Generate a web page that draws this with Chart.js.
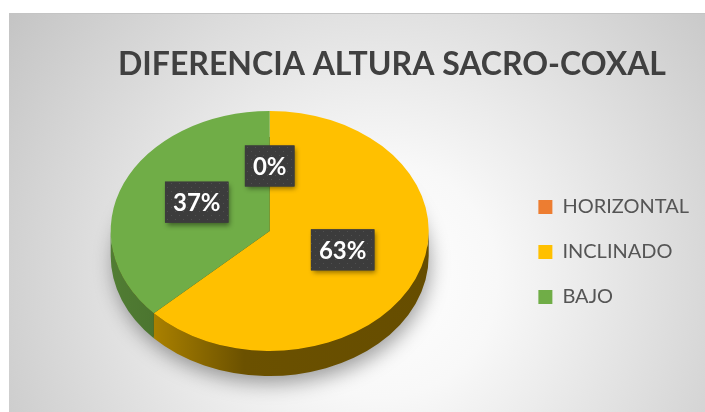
<!DOCTYPE html>
<html><head><meta charset="utf-8">
<script src="https://cdn.jsdelivr.net/npm/chart.js@4.4.1/dist/chart.umd.min.js"></script>
<style>
html,body{margin:0;padding:0;background:#fff;width:705px;height:412px;overflow:hidden;}
#wrap{position:absolute;left:9px;top:13px;width:696px;height:399px;}
</style></head><body>
<div id="wrap"><canvas id="c" width="696" height="399"></canvas></div>
<script>
const TITLE = 'DIFERENCIA ALTURA SACRO-COXAL';
const CATEGORIES = ['HORIZONTAL', 'INCLINADO', 'BAJO'];
const PERCENTS = [0, 63, 37];
const COLORS = ['#ED7D31', '#FFC000', '#70AD47'];

const TILT = 0.755;   // vertical squash of the pie (3-D view)
const DEPTH = 25;     // thickness of the 3-D pie side

function shade(hex, f) {
  const n = parseInt(hex.slice(1), 16);
  const r = Math.round(((n >> 16) & 255) * f), g = Math.round(((n >> 8) & 255) * f), b = Math.round((n & 255) * f);
  return `rgb(${r},${g},${b})`;
}

let dotPattern = null;
function getPattern(ctx) {
  if (dotPattern) return dotPattern;
  const c = document.createElement('canvas'); c.width = 8; c.height = 8;
  const p = c.getContext('2d');
  p.fillStyle = '#3c3c3c'; p.fillRect(0, 0, 8, 8);
  p.fillStyle = '#505050'; p.fillRect(2, 2, 1, 1); p.fillRect(6, 6, 1, 1);
  dotPattern = ctx.createPattern(c, 'repeat');
  return dotPattern;
}

const pie3d = {
  id: 'pie3d',
  beforeDraw(chart) {
    const {ctx, width, height} = chart;
    const g = ctx.createRadialGradient(371, 267, 0, 371, 267, 470);
    g.addColorStop(0, '#ffffff');
    g.addColorStop(0.25, '#f8f8f8');
    g.addColorStop(1, '#c2c2c2');
    ctx.save();
    ctx.fillStyle = g; ctx.fillRect(0, 0, width, height);
    ctx.fillStyle = '#c4c4c4'; ctx.fillRect(0, 0, width, 1);
    ctx.restore();
  },
  beforeDatasetsDraw(chart) {
    const ctx = chart.ctx;
    const arcs = chart.getDatasetMeta(0).data;
    const {x, y, outerRadius: r} = arcs[0].getProps(['x', 'y', 'outerRadius'], true);
    const ry = r * TILT;
    // soft shadow under the pie
    ctx.save();
    ctx.shadowColor = 'rgba(0,0,0,0.38)'; ctx.shadowBlur = 20; ctx.shadowOffsetY = 8; ctx.shadowOffsetX = 2;
    ctx.beginPath(); ctx.ellipse(x, y + DEPTH, r - 1, ry - 1, 0, 0, 2 * Math.PI);
    ctx.fillStyle = '#5a4400'; ctx.fill();
    ctx.restore();
    // sides
    arcs.forEach((a, i) => {
      const {startAngle, endAngle} = a.getProps(['startAngle', 'endAngle'], true);
      const base = COLORS[i];
      for (const off of [0, 2 * Math.PI, -2 * Math.PI]) {
        const s = Math.max(startAngle, off), e = Math.min(endAngle, off + Math.PI);
        if (e - s <= 1e-6) continue;
        const g = ctx.createLinearGradient(x - r, 0, x + r, 0);
        g.addColorStop(0, shade(base, 0.72));
        g.addColorStop(0.12, shade(base, 0.68));
        g.addColorStop(0.42, shade(base, 0.42));
        g.addColorStop(1, shade(base, 0.40));
        ctx.save();
        ctx.beginPath();
        ctx.ellipse(x, y, r, ry, 0, s, e, false);
        ctx.ellipse(x, y + DEPTH, r, ry, 0, e, s, true);
        ctx.closePath();
        ctx.fillStyle = g; ctx.fill();
        ctx.restore();
      }
    });
    ctx.save();
    ctx.translate(x, y); ctx.scale(1, TILT); ctx.translate(-x, -y);
  },
  afterDatasetsDraw(chart) {
    const ctx = chart.ctx;
    ctx.restore();
    const meta = chart.getDatasetMeta(0);
    const data = chart.data.datasets[0].data;
    const total = data.reduce((s, v) => s + v, 0);
    const arcs = meta.data;
    ctx.save();
    ctx.font = 'bold 24px Lato';
    arcs.forEach((a, i) => {
      const {x, y, startAngle, endAngle, outerRadius: r} = a.getProps(['x', 'y', 'startAngle', 'endAngle', 'outerRadius'], true);
      const mid = (startAngle + endAngle) / 2;
      const px = x + 0.5 * r * Math.cos(mid);
      const py = y + 0.5 * r * TILT * Math.sin(mid) - 5;
      const txt = Math.round(data[i] / total * 100) + '%';
      const tw = ctx.measureText(txt).width;
      const bw = tw + 16, bh = 41;
      ctx.save();
      ctx.shadowColor = 'rgba(0,0,0,0.45)'; ctx.shadowBlur = 5; ctx.shadowOffsetX = 2; ctx.shadowOffsetY = 3;
      ctx.fillStyle = '#3c3c3c';
      ctx.fillRect(px - bw / 2, py - bh / 2, bw, bh);
      ctx.restore();
      ctx.fillStyle = getPattern(ctx);
      ctx.fillRect(px - bw / 2, py - bh / 2, bw, bh);
      ctx.fillStyle = '#ffffff';
      ctx.textAlign = 'center'; ctx.textBaseline = 'middle';
      ctx.fillText(txt, px, py + 1);
    });
    ctx.restore();
  },
  afterDraw(chart) {
    const ctx = chart.ctx;
    ctx.save();
    ctx.font = 'bold 32px Lato';
    ctx.fillStyle = '#404040';
    ctx.textAlign = 'center'; ctx.textBaseline = 'alphabetic';
    ctx.fillText(TITLE, 383, 62);
    ctx.restore();
  }
};

Chart.defaults.font.family = 'Lato';

new Chart(document.getElementById('c'), {
  type: 'pie',
  data: {
    labels: CATEGORIES,
    datasets: [{ data: PERCENTS, backgroundColor: COLORS, borderWidth: 0 }]
  },
  options: {
    responsive: false,
    animation: false,
    events: [],
    layout: { padding: { top: 59, bottom: 22, left: 17, right: 6 } },
    plugins: {
      title: { display: false },
      tooltip: { enabled: false },
      legend: {
        position: 'right', align: 'center', fullSize: true,
        title: { display: true, text: '', font: { size: 12, lineHeight: 1 }, padding: { top: 30, bottom: 0 } },
        labels: { font: { family: 'Lato', size: 20 }, color: '#555555', boxWidth: 14, boxHeight: 14, padding: 25 }
      }
    }
  },
  plugins: [pie3d]
});
</script>
</body></html>
